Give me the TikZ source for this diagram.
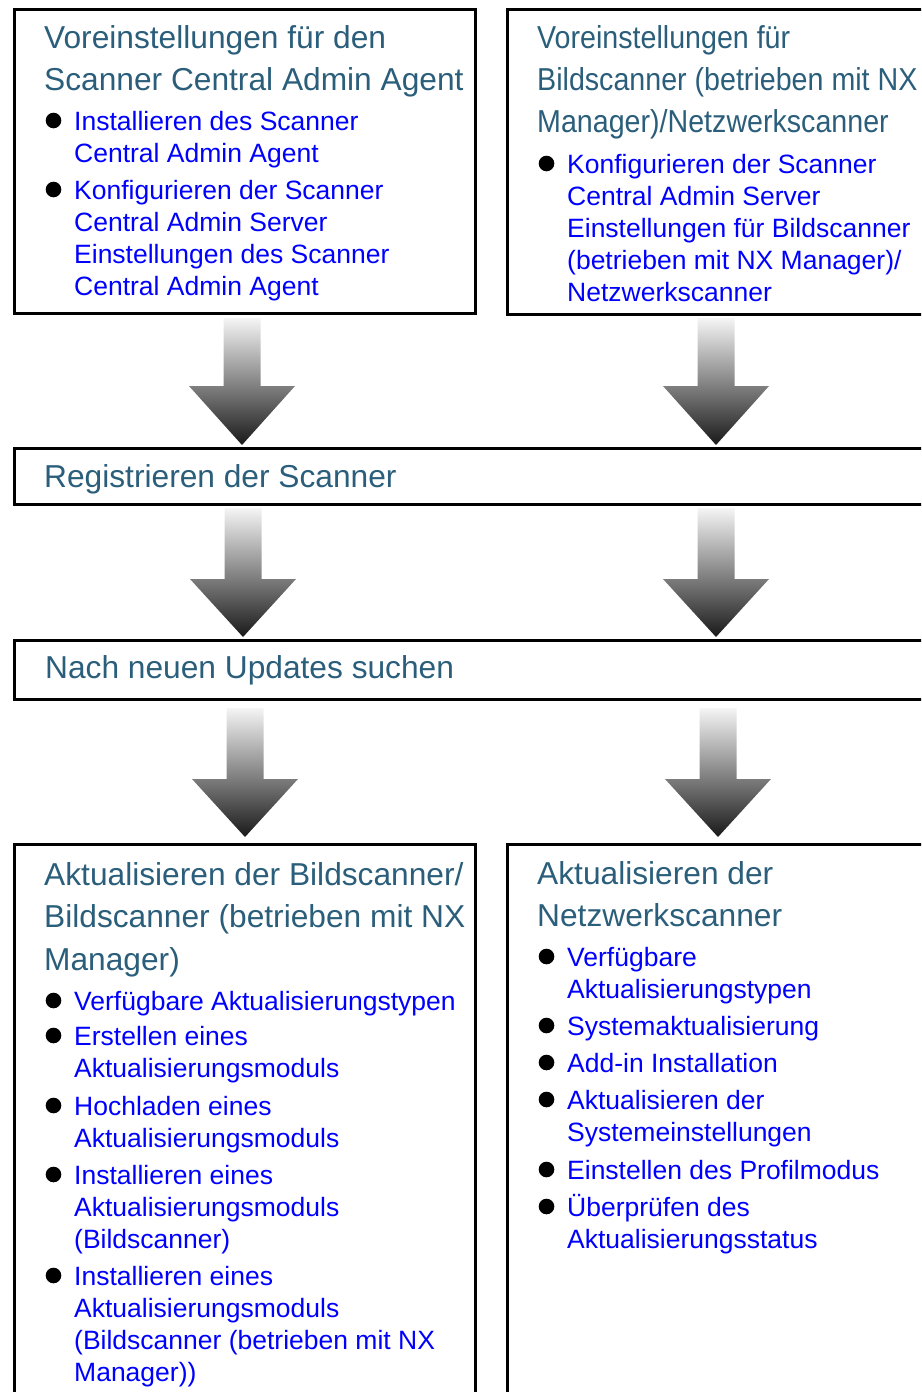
\documentclass[tikz,border=0pt]{standalone}
\usepackage{fontspec}
\setmainfont{Liberation Sans}
\usepackage{graphicx}
\usepackage{tikz}
\usetikzlibrary{positioning}
\definecolor{headcol}{RGB}{42,94,122}
\definecolor{linkcol}{RGB}{0,0,255}
\tikzset{
    box/.style={draw,line width=3pt,inner sep=0pt,anchor=north west},
    head/.style={anchor=base west,inner sep=0pt,text=headcol,font=\fontsize{31.7}{42.5}\selectfont},
    link/.style={anchor=base west,inner sep=0pt,text=linkcol,font=\fontsize{26.5}{32}\selectfont},
    dot/.style={circle,fill=black,minimum size=15.6pt,inner sep=0pt},
    flow/.style={top color=black!4,middle color=black!46,bottom color=black!90}
}
\newcommand{\lines}[1]{\parbox[t]{440pt}{\raggedright #1}}
\newcommand{\entry}[4]{%
    \node[dot] (#1dot) at (#2-20.5,#3-9.5) {};
    \node[link] (#1) at (#2,#3) {\lines{#4}};}
\newcommand{\flowarrow}[4]{%
    \shade[flow] (#1-18.5,#2) -- (#1+18.5,#2) -- (#1+18.5,#3) -- (#1+53,#3)
        -- (#1,#4) -- (#1-53,#3) -- (#1-18.5,#3) -- cycle;}

\begin{document}
\begin{tikzpicture}[x=1pt,y=-1pt]
                            \useasboundingbox (0,0) rectangle (921,1392);
                            \clip (0,0) rectangle (921,1392);
                            % boxes
                            \node[box,minimum width=461pt,minimum height=304pt] (prep) at (13,8) {};
                            \node[box,minimum width=429pt,minimum height=305pt] (prepnx) at (506,8) {};
                            \node[box,minimum width=922pt,minimum height=56pt] (reg) at (13,447) {};
                            \node[box,minimum width=922pt,minimum height=59pt] (upd) at (13,639) {};
                            \node[box,minimum width=461pt,minimum height=560pt] (bild) at (13,843) {};
                            \node[box,minimum width=429pt,minimum height=560pt] (netz) at (506,843) {};
                            % arrows
                            \flowarrow{242}{318}{386}{445}
                            \flowarrow{716}{318}{386}{445}
                            \flowarrow{243}{508}{579}{637}
                            \flowarrow{716}{508}{579}{637}
                            \flowarrow{245}{708}{779}{837}
                            \flowarrow{718}{708}{779}{837}
                            % top left
                            \node[head] (prephead) at (44,48) {\lines{Voreinstellungen für den\\Scanner Central Admin Agent}};
                            \entry{prepa}{74}{130}{Installieren des Scanner\\Central Admin Agent}
                            \entry{prepb}{74}{199}{Konfigurieren der Scanner\\Central Admin Server\\Einstellungen des Scanner\\Central Admin Agent}
                            % top right
                            \node[head] (prepnxhead) at (537,48) {\scalebox{0.903}[1]{\lines{Voreinstellungen für\\Bildscanner (betrieben mit NX\\Manager)/Netzwerkscanner}}};
                            \entry{prepnxa}{567}{173}{Konfigurieren der Scanner\\Central Admin Server\\Einstellungen für Bildscanner\\(betrieben mit NX Manager)/\\Netzwerkscanner}
                            % middle
                            \node[head] (reghead) at (44,487) {Registrieren der Scanner};
                            \node[head] (updhead) at (45,678) {Nach neuen Updates suchen};
                            % bottom left
                            \node[head] (bildhead) at (44,885) {\lines{Aktualisieren der Bildscanner/\\Bildscanner (betrieben mit NX\\Manager)}};
                            \entry{bilda}{74}{1010}{Verfügbare Aktualisierungstypen}
                            \entry{bildb}{74}{1045}{Erstellen eines\\Aktualisierungsmoduls}
                            \entry{bildc}{74}{1115}{Hochladen eines\\Aktualisierungsmoduls}
                            \entry{bildd}{74}{1184}{Installieren eines\\Aktualisierungsmoduls\\(Bildscanner)}
                            \entry{bilde}{74}{1285}{Installieren eines\\Aktualisierungsmoduls\\(Bildscanner (betrieben mit NX\\Manager))}
                            % bottom right
                            \node[head] (netzhead) at (537,884) {\lines{Aktualisieren der\\Netzwerkscanner}};
                            \entry{netza}{567}{966}{Verfügbare\\Aktualisierungstypen}
                            \entry{netzb}{567}{1035}{Systemaktualisierung}
                            \entry{netzc}{567}{1072}{Add-in Installation}
                            \entry{netzd}{567}{1109}{Aktualisieren der\\Systemeinstellungen}
                            \entry{netze}{567}{1179}{Einstellen des Profilmodus}
                            \entry{netzf}{567}{1216}{Überprüfen des\\Aktualisierungsstatus}
                        \end{tikzpicture}
\end{document}
